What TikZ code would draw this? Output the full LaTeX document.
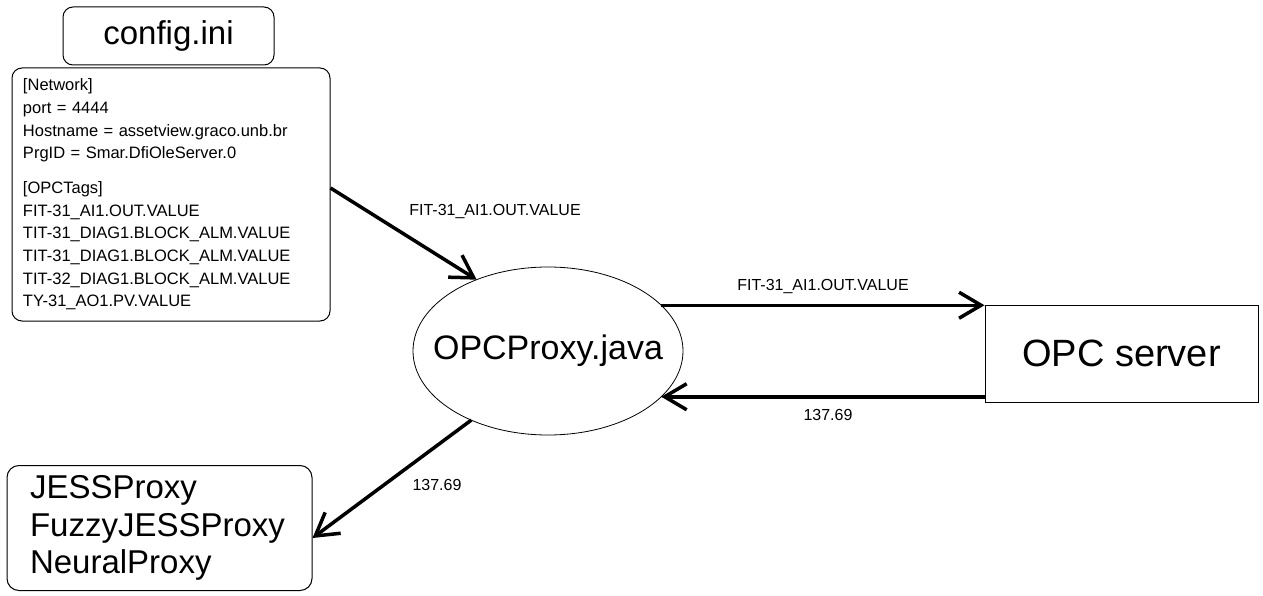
\documentclass[tikz,border=0pt]{standalone}
\usepackage{fontspec}
\setmainfont{Liberation Sans}
\usetikzlibrary{arrows.meta,shapes.geometric,calc}
\begin{document}
\begin{tikzpicture}[x=1pt,y=-1pt,
  box/.style={draw,line width=1pt,inner sep=0pt},
  arr/.style={line width=3.5pt,-{Straight Barb[length=22pt,width=26pt,line width=3.5pt]}},
  lbl/.style={font=\fontsize{16}{18}\selectfont,inner sep=0pt}]
\useasboundingbox[fill=white] (0,0) rectangle (1263,596);
% nodes
\node[box,rounded corners=10pt,minimum width=211pt,minimum height=58pt,
  font=\fontsize{33}{36}\selectfont] (title) at (168.5,36) {config.ini};
\node[box,rounded corners=10pt,minimum width=318pt,minimum height=253pt,
  text width=296pt,inner xsep=11pt,align=left,
  font=\fontsize{16.5}{22.7}\selectfont] (cfg) at (171,194.5)
  {[Network]\\ port = 4444\\ Hostname = assetview.graco.unb.br\\ PrgID = Smar.DfiOleServer.0\\[12pt]
   [OPCTags]\\ FIT-31\_AI1.OUT.VALUE\\ TIT-31\_DIAG1.BLOCK\_ALM.VALUE\\ TIT-31\_DIAG1.BLOCK\_ALM.VALUE\\
   TIT-32\_DIAG1.BLOCK\_ALM.VALUE\\ TY-31\_AO1.PV.VALUE};
\node[ellipse,draw,line width=0.8pt,inner sep=0pt,outer sep=0pt,minimum width=270pt,minimum height=168pt,
  font=\fontsize{34}{38}\selectfont] (ell) at (548,351) {\makebox[0pt]{OPCProxy.java}};
\node[box,minimum width=273pt,minimum height=97pt,
  font=\fontsize{38}{42}\selectfont] (opc) at (1121.5,353.5) {OPC server};
\node[box,rounded corners=12pt,minimum width=305pt,minimum height=125pt,
  text width=259pt,inner xsep=23pt,align=left,
  font=\fontsize{33}{37.5}\selectfont] (jess) at (159.5,528)
  {JESSProxy\\ FuzzyJESSProxy\\ NeuralProxy};
% connectors
\draw[arr] ([yshift=6.5pt]cfg.east) -- (ell.135);
\draw[arr] (ell.22) -- (ell.22 -| opc.west);
\draw[arr] (ell.338 -| opc.west) -- (ell.338);
\draw[arr] (ell.222) -- ([yshift=-10pt]jess.east);
% labels
\node[lbl] (l1) at (495,212) {FIT-31\_AI1.OUT.VALUE};
\node[lbl] (l2) at (823,287) {FIT-31\_AI1.OUT.VALUE};
\node[lbl] (l3) at (828,415) {137.69};
\node[lbl] (l4) at (437,485) {137.69};
\end{tikzpicture}
\end{document}
